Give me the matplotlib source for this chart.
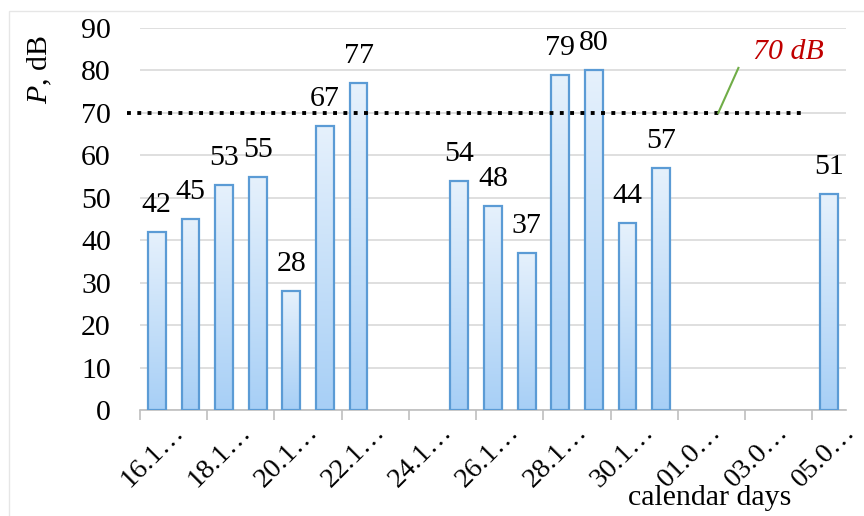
import numpy as np
import matplotlib
matplotlib.use('Agg')
from matplotlib import pyplot as plt
from matplotlib.colors import LinearSegmentedColormap
from matplotlib.patches import Rectangle
from matplotlib.transforms import ScaledTranslation

plt.rcParams['font.family'] = ['Liberation Serif', 'DejaVu Serif']
plt.rcParams['mathtext.fontset'] = 'custom'
plt.rcParams['mathtext.rm'] = 'Liberation Serif'
plt.rcParams['mathtext.it'] = 'Liberation Serif:italic'

# data: one category per calendar day, None = no measurement
days = ['16.1…', '17.1…', '18.1…', '19.1…', '20.1…', '21.1…', '22.1…',
        '23.1…', '24.1…', '25.1…', '26.1…', '27.1…', '28.1…', '29.1…',
        '30.1…', '31.1…', '01.0…', '02.0…', '03.0…', '04.0…', '05.0…']
levels = [42, 45, 53, 55, 28, 67, 77, None, None, 54, 48, 37, 79, 80,
          44, 57, None, None, None, None, 51]
limit = 70

fig = plt.figure(figsize=(8.64, 5.16), dpi=100)
ax = fig.add_axes([140/864, 1-410/516, 706/864, 382/516])

x = np.arange(len(days))
width = 0.53
cmap = LinearSegmentedColormap.from_list('bar', ['#a7cff6', '#e6f1fc'])
grad = np.linspace(0, 1, 256).reshape(-1, 1)

for i, v in enumerate(levels):
  if v is None:
    continue
  rect = ax.bar(x[i], v, width, color='none', edgecolor='#5b9bd5',
                linewidth=1.6, zorder=3)[0]
  img = ax.imshow(grad, cmap=cmap, origin='lower', aspect='auto',
                  extent=(x[i]-width/2, x[i]+width/2, 0, v), zorder=2)
  img.set_clip_path(rect)
  ax.text(x[i], v + 3.3, str(v), ha='center', va='bottom', fontsize=21.5)

ax.set_xlim(-0.5, len(days)-0.5)
ax.set_ylim(0, 90)
ax.set_yticks(np.arange(0, 91, 10))
ax.yaxis.grid(True, color='#d9d9d9', linewidth=1.2, zorder=0)
ax.set_axisbelow(True)
ax.tick_params(axis='y', length=0, labelsize=21.5, pad=21)

# tick marks on the boundaries, labels on every second day
ax.set_xticks(np.arange(-0.5, len(days), 2))
ax.set_xticklabels([])
ax.set_xticks(x[::2], minor=True)
ax.set_xticklabels(days[::2], minor=True, rotation=45, ha='right',
                   rotation_mode='anchor', fontsize=20.5)
ax.tick_params(axis='x', which='major', length=7, color='#bfbfbf', width=1.2)
ax.tick_params(axis='x', which='minor', length=0, pad=12)
shift = ScaledTranslation(0.14, 0.07, fig.dpi_scale_trans)
for lab in ax.get_xticklabels(minor=True):
  lab.set_transform(lab.get_transform() + shift)

for s in ['left', 'right', 'top']:
  ax.spines[s].set_visible(False)
ax.spines['bottom'].set_color('#bfbfbf')
ax.spines['bottom'].set_linewidth(1.2)

# 70 dB threshold
ax.axhline(limit, xmin=-0.018, xmax=0.942, color='black', linestyle=':',
           linewidth=2.8, clip_on=False, zorder=4)
ax.plot([16.7, 17.3], [limit, 80.6], color='#70ad47', linewidth=1.5, zorder=4)
ax.text(18.8, 84.4, '70 dB', ha='center', va='center', fontsize=21.5,
        style='italic', color='#c00000')

fig.text(40/864, 1-70/516, '$\\it{P}$, dB', rotation=90, fontsize=21.5,
         ha='center', va='center')
fig.text(710/864, 1-498/516, 'calendar days', fontsize=21.5,
         ha='center', va='center')

fig.patches.append(Rectangle((9/864, -0.1), 1.2, 1-11/516+0.1,
                             transform=fig.transFigure, fill=False,
                             edgecolor='#e6e6e6', linewidth=1))

fig.savefig('out.png', dpi=100)
